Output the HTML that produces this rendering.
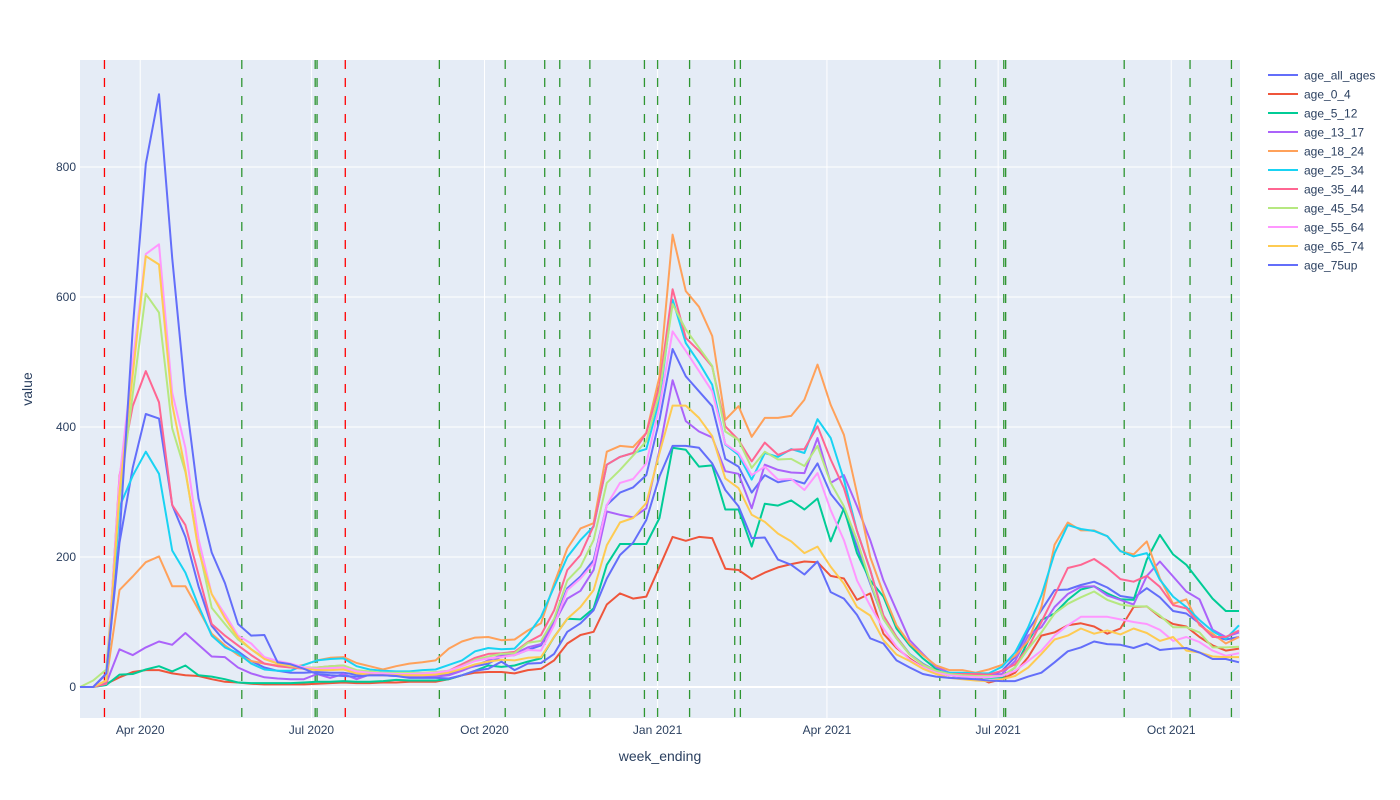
<!DOCTYPE html>
<html><head><meta charset="utf-8"><style>
body{margin:0;background:#fff;}
svg{display:block;font-family:"Liberation Sans",Arial,sans-serif;}
</style></head><body>
<svg id="chart" width="1400" height="800" xmlns="http://www.w3.org/2000/svg">
<rect x="80" y="60" width="1160" height="658" fill="#e5ecf6"/>
<g id="grid"></g><g id="vlines"></g><g id="series"></g><g id="axes"></g><g id="legend"></g>
<text x="32" y="389" transform="rotate(-90 32 389)" text-anchor="middle" font-size="14" fill="#2a3f5f">value</text>
<text x="660" y="761" text-anchor="middle" font-size="14" fill="#2a3f5f">week_ending</text>
</svg>
<script>
const seriesNames=["age_all_ages","age_0_4","age_5_12","age_13_17","age_18_24","age_25_34","age_35_44","age_45_54","age_55_64","age_65_74","age_75up"];
const seriesColors=["#636efa","#ef553b","#00cc96","#ab63fa","#ffa15a","#19d3f3","#ff6692","#b6e880","#ff97ff","#fecb52","#636efa"];
const age_all_ages=[0,0,20,222,337,420,413,280,231,155,94,70,55,40,30,25,22,22,23,22,22,19,18,18,17,17,16,17,20,27,32,36,47,49,57,64,100,152,170,195,280,299,307,326,411,520,478,455,432,351,339,299,326,315,319,313,344,297,272,216,159,105,75,50,34,25,20,18,17,16,25,46,87,118,149,150,157,162,153,140,137,152,138,117,113,98,78,73,77];
const age_0_4=[0,0,5,15,23,26,26,21,18,17,12,8,7,5,4,4,4,4,5,6,7,6,6,7,7,8,8,8,12,18,22,23,23,21,26,28,41,67,80,85,127,144,136,139,185,231,225,231,229,182,180,166,176,184,189,193,192,171,167,134,144,82,60,44,30,22,18,16,16,7,12,22,46,79,84,95,98,93,82,90,123,124,108,97,93,77,64,56,59];
const age_5_12=[0,0,3,19,20,27,32,24,33,18,16,12,7,6,6,6,6,7,8,8,9,8,8,9,11,10,10,10,12,18,25,33,31,33,39,44,77,105,104,121,188,220,220,220,260,368,365,339,341,273,273,216,282,279,287,273,290,224,275,206,164,139,90,64,44,28,18,16,15,14,15,30,71,103,113,134,150,155,144,135,134,196,234,204,188,162,136,117,117];
const age_13_17=[0,0,6,58,49,61,70,65,83,65,47,46,30,21,15,13,12,12,20,14,20,12,19,18,18,17,17,16,18,25,33,41,49,51,61,66,98,136,148,180,270,265,261,275,365,472,409,393,384,332,328,275,342,334,330,329,383,314,326,278,226,164,118,72,51,31,22,20,18,18,20,40,79,92,123,143,154,155,141,134,127,171,193,170,147,135,88,77,84];
const age_18_24=[0,0,10,149,170,192,201,155,155,119,82,64,49,40,36,33,30,34,41,45,46,37,32,27,32,36,38,41,59,70,76,77,72,73,87,98,159,213,244,252,362,371,369,391,478,696,609,585,540,411,432,385,414,414,417,442,496,434,388,298,200,144,95,67,49,33,26,26,22,27,34,48,71,123,219,253,241,241,232,209,204,224,167,128,135,95,82,67,77];
const age_25_34=[0,0,5,277,325,362,328,210,176,125,79,61,52,36,27,25,25,34,41,43,44,32,27,25,24,24,26,27,34,41,55,60,58,59,80,108,154,200,226,247,342,354,360,366,442,596,529,499,465,373,357,319,360,354,366,360,412,383,319,240,180,110,77,51,36,25,22,22,21,21,31,53,92,141,206,249,243,240,232,209,201,206,165,139,123,103,86,74,95];
const age_35_44=[0,0,5,325,432,486,438,280,249,173,97,79,64,49,36,32,30,28,30,32,33,25,22,21,21,21,21,22,25,35,45,51,52,54,69,80,118,180,203,248,342,354,360,391,463,612,537,517,493,401,380,347,376,357,365,366,401,350,306,240,180,110,77,50,35,25,20,20,20,19,25,35,61,100,141,183,188,197,183,166,162,171,154,126,121,97,77,77,87];
const age_45_54=[0,10,27,290,450,605,576,398,331,216,122,97,73,58,45,36,32,30,30,32,33,26,24,22,22,22,22,23,25,32,42,47,51,52,68,71,105,164,185,226,314,334,356,378,452,589,550,522,494,393,380,337,362,350,351,340,371,314,278,226,162,105,75,50,34,25,20,18,17,17,17,30,59,84,113,128,138,147,134,127,124,124,110,92,92,84,61,61,62];
const age_55_64=[0,0,10,320,500,666,681,453,368,228,143,112,79,67,46,40,36,30,28,29,30,24,22,21,20,20,21,22,25,32,40,44,46,49,57,56,95,149,167,190,280,314,320,344,432,547,517,486,455,374,360,326,339,319,320,303,329,272,226,164,125,90,62,42,30,22,18,16,15,15,17,25,40,56,79,95,108,108,108,104,100,97,88,71,77,69,56,48,52];
const age_65_74=[0,0,10,300,480,663,650,435,334,210,143,106,76,58,43,36,33,28,26,26,27,21,19,18,18,18,18,19,22,28,35,39,42,41,45,46,77,105,123,149,218,253,260,283,360,433,433,414,386,321,306,265,254,236,224,206,216,185,159,123,110,72,50,40,28,20,14,12,10,9,12,17,30,51,73,79,90,82,87,81,90,83,71,77,56,53,47,46,46];
const age_75up=[0,0,21,230,550,805,912,660,450,290,207,160,97,79,80,38,35,28,20,18,17,16,18,18,17,14,14,14,13,18,25,28,39,26,36,37,51,85,98,118,167,203,222,257,324,371,371,368,344,303,278,229,230,196,188,173,193,146,136,111,75,67,41,30,20,16,14,13,12,10,9,9,16,22,38,55,61,70,66,65,60,67,57,59,60,53,43,43,38];
const seriesData=[age_all_ages,age_0_4,age_5_12,age_13_17,age_18_24,age_25_34,age_35_44,age_45_54,age_55_64,age_65_74,age_75up];
const yTicks=[0,200,400,600,800];
const xTickLabels=["Apr 2020","Jul 2020","Oct 2020","Jan 2021","Apr 2021","Jul 2021","Oct 2021"];
const xTickDates=["2020-04-01","2020-07-01","2020-10-01","2021-01-01","2021-04-01","2021-07-01","2021-10-01"];
const redEventDates=["2020-03-13","2020-07-19"];
const greenEventDates=["2020-05-25","2020-07-03","2020-07-04","2020-09-07","2020-10-12","2020-11-02","2020-11-10","2020-11-26","2020-12-25","2021-01-01","2021-01-18","2021-02-11","2021-02-14","2021-05-31","2021-06-19","2021-07-04","2021-07-05","2021-09-06","2021-10-11","2021-11-02"];
const startDate="2020-02-29";

const NS="http://www.w3.org/2000/svg";
const X0=80,PX_PER_DAY=13.17/7,Y0=687,PX_PER_UNIT=0.65;
const t0=Date.parse(startDate);
function dayOf(s){return (Date.parse(s)-t0)/86400000;}
function xScale(day){return X0+day*PX_PER_DAY;}
function yScale(v){return Y0-v*PX_PER_UNIT;}
function mk(tag,attrs,parent){const e=document.createElementNS(NS,tag);for(const k in attrs)e.setAttribute(k,attrs[k]);parent.appendChild(e);return e;}

const grid=document.getElementById('grid');
yTicks.forEach(v=>{
  const l=mk('line',{x1:80,x2:1240,y1:yScale(v),y2:yScale(v),stroke:'#fff','stroke-width':v===0?2:1},grid);
  
  
});
xTickDates.forEach(d=>{
  const x=xScale(dayOf(d));
  const l=mk('line',{x1:x,x2:x,y1:60,y2:718,stroke:'#fff','stroke-width':1},grid);
  
  
});

const vl=document.getElementById('vlines');
greenEventDates.forEach(d=>{
  const x=xScale(dayOf(d));
  const l=mk('line',{x1:x,x2:x,y1:60,y2:718,stroke:'green','stroke-width':1.3,'stroke-dasharray':'9,9','stroke-opacity':0.8},vl);
  
  
});
redEventDates.forEach(d=>{
  const x=xScale(dayOf(d));
  const l=mk('line',{x1:x,x2:x,y1:60,y2:718,stroke:'red','stroke-width':1.3,'stroke-dasharray':'9,9'},vl);
  
  
});

const sg=document.getElementById('series');
seriesData.forEach((arr,si)=>{
  const pts=arr.map((v,i)=>xScale(i*7).toFixed(1)+','+yScale(v).toFixed(1)).join(' ');
  const p=mk('polyline',{points:pts,fill:'none',stroke:seriesColors[si],'stroke-width':2,'stroke-linejoin':'round'},sg);
  
  
});

const ax=document.getElementById('axes');
yTicks.forEach(v=>{
  const t=mk('text',{x:76,y:yScale(v)+4,'text-anchor':'end','font-size':12,fill:'#2a3f5f'},ax);
  t.textContent=v;
  
  
});
xTickDates.forEach((d,i)=>{
  const t=mk('text',{x:xScale(dayOf(d)),y:734,'text-anchor':'middle','font-size':12,fill:'#2a3f5f'},ax);
  t.textContent=xTickLabels[i];
  
  
});

const lg=document.getElementById('legend');
seriesNames.forEach((n,i)=>{
  const y=75+i*19;
  const g=mk('g',{},lg);
  
  
  mk('line',{x1:1268,x2:1298,y1:y,y2:y,stroke:seriesColors[i],'stroke-width':2},g);
  const t=mk('text',{x:1304,y:y+4.5,'font-size':12,fill:'#2a3f5f'},g);
  t.textContent=n;
});
</script>
</body></html>
